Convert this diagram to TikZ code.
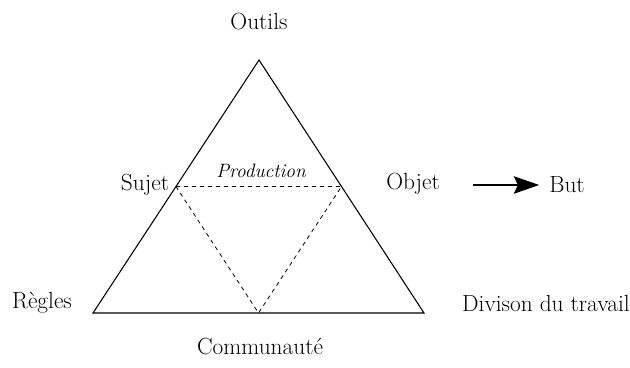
\documentclass[tikz,border=0pt]{standalone}
\usepackage{fontspec}
\usepackage{tikz}
\usetikzlibrary{arrows.meta,calc}

\begin{document}
\begin{tikzpicture}[x=0.75pt,y=0.75pt,
        lbl/.style={font=\fontsize{17.5}{20}\selectfont},
        side/.style={line width=0.8pt},
        inner/.style={dashed,line width=0.6pt}]
        \useasboundingbox (0,0) rectangle (630,367);
        % triangle corners and midpoints
        \coordinate (top) at (259,307);
        \coordinate (bl) at (93,54);
        \coordinate (br) at (424,54);
        \coordinate (ml) at ($(top)!0.5!(bl)$);
        \coordinate (mr) at ($(top)!0.5!(br)$);
        \coordinate (mb) at ($(bl)!0.5!(br)$);
        \draw[side] (top)--(bl)--(br)--cycle;
        \draw[inner] (ml)--(mr)--(mb)--cycle;
        \node[lbl](outils)at(259,345){Outils};
        \node[lbl](sujet)at(145,182){Sujet};
        \node[lbl](objet)at(413,183){Objet};
        \node[lbl](but)at(567,182){But};
        \node[lbl,font=\fontsize{14.5}{17}\selectfont\itshape](prod)at(261,196){Production};
        \node[lbl](regles)at(42,64){Règles};
        \node[lbl](travail)at(546,64){Divison du travail};
        \node[lbl](comm)at(260,20){Communauté};
        \coordinate (start) at (473,182);
        \draw[-{Stealth[length=19pt,width=13pt,inset=3pt]},line width=1.8pt,shorten >=4pt](start)--(but.west);
    \end{tikzpicture}
\end{document}
